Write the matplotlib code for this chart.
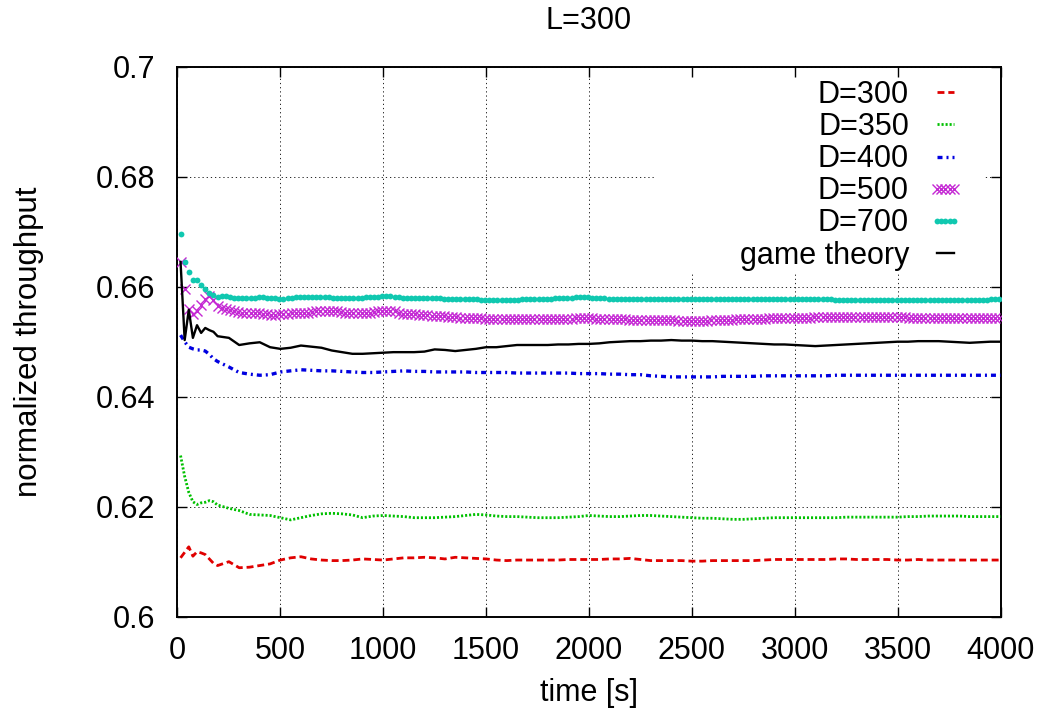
import numpy as np
import matplotlib
matplotlib.use('Agg')
import matplotlib.pyplot as plt
from matplotlib.patches import Rectangle

plt.rcParams['font.family'] = ['Liberation Sans', 'DejaVu Sans']

# time grids: line series were logged every 20 s early on, then every 50 s;
# point series every 20 s over the whole run
t_line = np.concatenate([np.arange(15, 200, 20), np.arange(250, 4001, 50)])
t_pts = np.arange(15, 4000, 20)

d300 = [0.6107, 0.6117, 0.6127, 0.6110, 0.6118, 0.6116, 0.6113, 0.6105, 0.6097, 0.6093,
        0.6100, 0.6089, 0.6090, 0.6093, 0.6096, 0.6103, 0.6107, 0.6109, 0.6105, 0.6103,
        0.6102, 0.6102, 0.6103, 0.6105, 0.6104, 0.6103, 0.6105, 0.6107, 0.6107, 0.6108,
        0.6107, 0.6105, 0.6108, 0.6107, 0.6106, 0.6105, 0.6103, 0.6102, 0.6103, 0.6103,
        0.6103, 0.6103, 0.6103, 0.6104, 0.6104, 0.6104, 0.6104, 0.6105, 0.6105, 0.6106,
        0.6104, 0.6102, 0.6102, 0.6102, 0.6102, 0.6101, 0.6101, 0.6102, 0.6102, 0.6102,
        0.6102, 0.6102, 0.6103, 0.6104, 0.6104, 0.6104, 0.6104, 0.6104, 0.6104, 0.6105,
        0.6105, 0.6104, 0.6104, 0.6104, 0.6104, 0.6103, 0.6103, 0.6104, 0.6103, 0.6103,
        0.6103, 0.6103, 0.6103, 0.6103, 0.6103, 0.6103]

d350 = [0.6293, 0.6255, 0.6226, 0.6209, 0.6204, 0.6207, 0.6208, 0.6211, 0.6209, 0.6203,
        0.6197, 0.6193, 0.6186, 0.6185, 0.6184, 0.6180, 0.6176, 0.6180, 0.6184, 0.6187,
        0.6188, 0.6187, 0.6185, 0.6180, 0.6183, 0.6184, 0.6183, 0.6182, 0.6180, 0.6180,
        0.6180, 0.6181, 0.6182, 0.6184, 0.6186, 0.6185, 0.6183, 0.6182, 0.6182, 0.6181,
        0.6180, 0.6180, 0.6180, 0.6181, 0.6182, 0.6184, 0.6183, 0.6182, 0.6182, 0.6183,
        0.6184, 0.6184, 0.6183, 0.6182, 0.6181, 0.6180, 0.6179, 0.6179, 0.6178, 0.6177,
        0.6177, 0.6178, 0.6179, 0.6180, 0.6180, 0.6180, 0.6180, 0.6180, 0.6180, 0.6180,
        0.6181, 0.6181, 0.6181, 0.6181, 0.6181, 0.6181, 0.6182, 0.6182, 0.6183, 0.6183,
        0.6183, 0.6183, 0.6182, 0.6182, 0.6182, 0.6182]

d400 = [0.6512, 0.6500, 0.6490, 0.6487, 0.6485, 0.6485, 0.6483, 0.6477, 0.6469, 0.6464,
        0.6454, 0.6444, 0.6441, 0.6439, 0.6440, 0.6445, 0.6447, 0.6449, 0.6448, 0.6447,
        0.6447, 0.6446, 0.6445, 0.6444, 0.6444, 0.6445, 0.6446, 0.6447, 0.6446, 0.6446,
        0.6445, 0.6445, 0.6445, 0.6445, 0.6444, 0.6444, 0.6444, 0.6444, 0.6443, 0.6443,
        0.6443, 0.6443, 0.6443, 0.6443, 0.6442, 0.6442, 0.6442, 0.6441, 0.6441, 0.6440,
        0.6440, 0.6438, 0.6437, 0.6436, 0.6436, 0.6436, 0.6436, 0.6436, 0.6437, 0.6437,
        0.6437, 0.6437, 0.6438, 0.6438, 0.6438, 0.6438, 0.6438, 0.6438, 0.6438, 0.6439,
        0.6439, 0.6439, 0.6439, 0.6439, 0.6439, 0.6439, 0.6439, 0.6439, 0.6439, 0.6439,
        0.6439, 0.6439, 0.6439, 0.6439, 0.6439, 0.6439]

game_theory = [0.6645, 0.6503, 0.6558, 0.6507, 0.6530, 0.6516, 0.6525, 0.6521, 0.6518, 0.6510,
               0.6507, 0.6494, 0.6497, 0.6499, 0.6490, 0.6487, 0.6489, 0.6493, 0.6491, 0.6489,
               0.6484, 0.6481, 0.6478, 0.6478, 0.6479, 0.6480, 0.6481, 0.6481, 0.6481, 0.6482,
               0.6486, 0.6485, 0.6483, 0.6485, 0.6487, 0.6490, 0.6490, 0.6492, 0.6494, 0.6494,
               0.6494, 0.6494, 0.6495, 0.6495, 0.6496, 0.6496, 0.6497, 0.6499, 0.6500, 0.6501,
               0.6501, 0.6502, 0.6502, 0.6503, 0.6502, 0.6502, 0.6501, 0.6501, 0.6500, 0.6499,
               0.6498, 0.6497, 0.6496, 0.6495, 0.6495, 0.6494, 0.6493, 0.6492, 0.6493, 0.6494,
               0.6495, 0.6496, 0.6497, 0.6498, 0.6499, 0.6500, 0.6500, 0.6501, 0.6501, 0.6501,
               0.6500, 0.6499, 0.6498, 0.6499, 0.6500, 0.6500]

d500 = [0.6645, 0.6596, 0.6560, 0.6550, 0.6555, 0.6566, 0.6578, 0.6584, 0.6576, 0.6565,
        0.6561, 0.6559, 0.6558, 0.6556, 0.6554, 0.6552, 0.6552, 0.6553, 0.6553, 0.6552,
        0.6551, 0.6550, 0.6549, 0.6549, 0.6550, 0.6550, 0.6551, 0.6552, 0.6552, 0.6552,
        0.6552, 0.6553, 0.6554, 0.6555, 0.6556, 0.6556, 0.6555, 0.6555, 0.6555, 0.6554,
        0.6553, 0.6553, 0.6552, 0.6552, 0.6552, 0.6552, 0.6553, 0.6554, 0.6555, 0.6555,
        0.6555, 0.6556, 0.6555, 0.6553, 0.6551, 0.6550, 0.6550, 0.6550, 0.6549, 0.6549,
        0.6548, 0.6547, 0.6547, 0.6546, 0.6546, 0.6545, 0.6545, 0.6545, 0.6544, 0.6544,
        0.6544, 0.6544, 0.6543, 0.6543, 0.6542, 0.6542, 0.6542, 0.6541, 0.6541, 0.6541,
        0.6541, 0.6541, 0.6541, 0.6541, 0.6541, 0.6541, 0.6541, 0.6541, 0.6541, 0.6541,
        0.6541, 0.6541, 0.6542, 0.6542, 0.6542, 0.6542, 0.6543, 0.6543, 0.6543, 0.6543,
        0.6543, 0.6542, 0.6542, 0.6542, 0.6542, 0.6541, 0.6541, 0.6541, 0.6541, 0.6540,
        0.6540, 0.6540, 0.6540, 0.6540, 0.6540, 0.6539, 0.6539, 0.6539, 0.6539, 0.6539,
        0.6539, 0.6538, 0.6538, 0.6538, 0.6538, 0.6538, 0.6538, 0.6538, 0.6538, 0.6539,
        0.6539, 0.6539, 0.6540, 0.6540, 0.6540, 0.6541, 0.6541, 0.6541, 0.6542, 0.6542,
        0.6542, 0.6542, 0.6542, 0.6543, 0.6543, 0.6543, 0.6543, 0.6543, 0.6543, 0.6543,
        0.6544, 0.6544, 0.6544, 0.6544, 0.6545, 0.6545, 0.6545, 0.6545, 0.6545, 0.6545,
        0.6545, 0.6545, 0.6545, 0.6545, 0.6545, 0.6545, 0.6545, 0.6545, 0.6545, 0.6545,
        0.6545, 0.6545, 0.6545, 0.6545, 0.6545, 0.6545, 0.6545, 0.6544, 0.6544, 0.6544,
        0.6544, 0.6544, 0.6544, 0.6544, 0.6544, 0.6544, 0.6544, 0.6543, 0.6543, 0.6543,
        0.6543, 0.6543, 0.6543, 0.6543, 0.6543, 0.6543, 0.6543, 0.6543, 0.6543, 0.6543]

d700 = [0.6696, 0.6645, 0.6627, 0.6613, 0.6612, 0.6603, 0.6596, 0.6588, 0.6585, 0.6582,
        0.6584, 0.6583, 0.6581, 0.6580, 0.6579, 0.6579, 0.6579, 0.6580, 0.6580, 0.6581,
        0.6581, 0.6580, 0.6580, 0.6579, 0.6578, 0.6578, 0.6579, 0.6580, 0.6581, 0.6582,
        0.6582, 0.6582, 0.6581, 0.6581, 0.6582, 0.6582, 0.6581, 0.6580, 0.6580, 0.6580,
        0.6579, 0.6579, 0.6580, 0.6580, 0.6580, 0.6581, 0.6582, 0.6582, 0.6582, 0.6583,
        0.6583, 0.6583, 0.6582, 0.6581, 0.6580, 0.6580, 0.6580, 0.6579, 0.6579, 0.6579,
        0.6579, 0.6579, 0.6579, 0.6579, 0.6578, 0.6578, 0.6578, 0.6577, 0.6577, 0.6577,
        0.6577, 0.6577, 0.6577, 0.6576, 0.6576, 0.6576, 0.6576, 0.6576, 0.6576, 0.6576,
        0.6576, 0.6576, 0.6576, 0.6577, 0.6577, 0.6577, 0.6577, 0.6578, 0.6578, 0.6578,
        0.6578, 0.6579, 0.6579, 0.6579, 0.6580, 0.6580, 0.6581, 0.6581, 0.6581, 0.6581,
        0.6580, 0.6580, 0.6579, 0.6579, 0.6578, 0.6578, 0.6578, 0.6578, 0.6578, 0.6578,
        0.6578, 0.6578, 0.6578, 0.6578, 0.6578, 0.6578, 0.6578, 0.6578, 0.6578, 0.6578,
        0.6578, 0.6578, 0.6578, 0.6578, 0.6578, 0.6577, 0.6577, 0.6577, 0.6577, 0.6577,
        0.6577, 0.6577, 0.6577, 0.6577, 0.6577, 0.6577, 0.6577, 0.6577, 0.6577, 0.6577,
        0.6577, 0.6578, 0.6578, 0.6578, 0.6578, 0.6578, 0.6578, 0.6578, 0.6578, 0.6578,
        0.6578, 0.6578, 0.6577, 0.6577, 0.6577, 0.6577, 0.6577, 0.6577, 0.6577, 0.6576,
        0.6576, 0.6576, 0.6576, 0.6576, 0.6576, 0.6576, 0.6576, 0.6575, 0.6575, 0.6575,
        0.6575, 0.6575, 0.6575, 0.6575, 0.6575, 0.6575, 0.6575, 0.6575, 0.6575, 0.6575,
        0.6575, 0.6575, 0.6575, 0.6575, 0.6575, 0.6575, 0.6575, 0.6575, 0.6575, 0.6575,
        0.6575, 0.6575, 0.6576, 0.6576, 0.6576, 0.6576, 0.6576, 0.6577, 0.6577, 0.6577]

x_ticks = [0, 500, 1000, 1500, 2000, 2500, 3000, 3500, 4000]
y_ticks = [0.6, 0.62, 0.64, 0.66, 0.68, 0.7]
y_ticklabels = ['0.6', '0.62', '0.64', '0.66', '0.68', '0.7']

fig = plt.figure(figsize=(10.47, 7.19), dpi=100)
ax = fig.add_axes([0.1695, 0.1423, 0.7861, 0.7649])

ax.plot(t_line, d300, color='#e00000', lw=2.0, dashes=(2.5, 1.4), label='D=300', zorder=3)
ax.plot(t_line, d350, color='#00c000', lw=2.0, dashes=(0.75, 0.7), label='D=350', zorder=3)
ax.plot(t_line, d400, color='#0000e0', lw=2.4, dashes=(1.5, 1.2, 0.6, 1.2), label='D=400', zorder=3)
ax.plot(t_pts, d500, ls='none', marker='x', ms=6.5, mew=1.0, color='#c428d4', label='D=500', zorder=3)
ax.plot(t_pts, d700, ls='none', marker='o', ms=4.2, mew=0, color='#10c8b0', label='D=700', zorder=3)
ax.plot(t_line, game_theory, color='black', lw=1.7, label='game theory', zorder=3)

ax.set_xlim(0, 4000)
ax.set_ylim(0.6, 0.7)
ax.set_xticks(x_ticks)
ax.set_yticks(y_ticks)
ax.set_yticklabels(y_ticklabels)
ax.tick_params(direction='in', top=True, right=True, length=7.5, width=1.0,
               labelsize=22, pad=14)
ax.tick_params(axis='y', pad=16)
for s in ax.spines.values():
    s.set_linewidth(1.4)

ax.set_axisbelow(True)
ax.grid(True, color='black', lw=0.6, linestyle=(0, (1.5, 3.5)))

# white box behind the key hides the grid there
ax.add_patch(Rectangle((0.580, 0.627), 0.399, 0.353, transform=ax.transAxes,
                       facecolor='white', edgecolor='none', zorder=1))

ax.set_title('L=300', fontsize=22, pad=27)
ax.set_xlabel('time [s]', fontsize=22)
ax.set_ylabel('normalized throughput', fontsize=22.5)
ax.xaxis.set_label_coords(0.5, -0.112)
ax.yaxis.set_label_coords(-0.162, 0.5)

leg = ax.legend(loc='upper right', bbox_to_anchor=(0.9544, 0.976), frameon=False,
                markerfirst=False, fontsize=22, numpoints=5, borderpad=0,
                handlelength=1.15, handletextpad=0.62, labelspacing=0.07,
                borderaxespad=0)
leg.set_zorder(5)

fig.savefig('out.png', dpi=100)
